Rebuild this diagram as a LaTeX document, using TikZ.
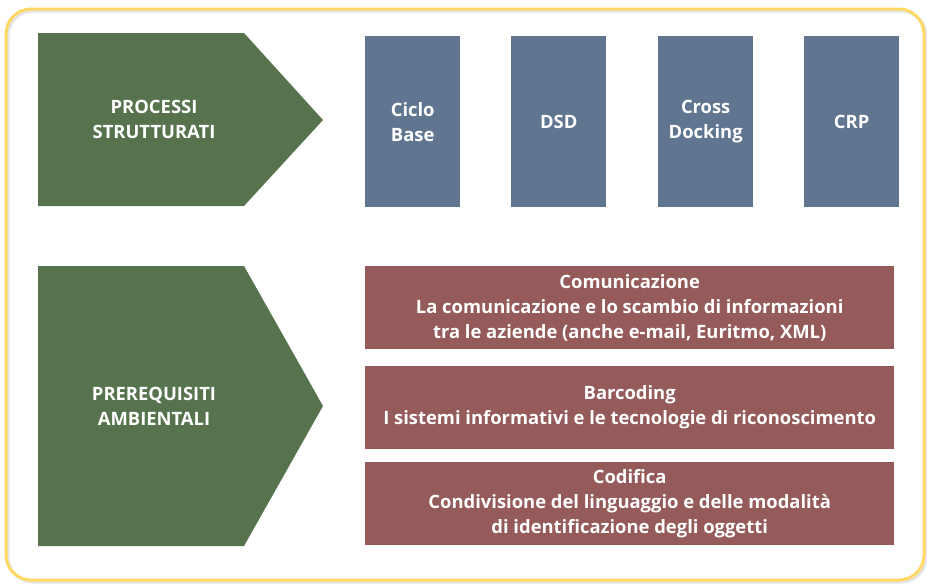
\documentclass[tikz,border=0pt]{standalone}
\usepackage{fontspec}
\setmainfont{Open Sans}
\usetikzlibrary{positioning}

\definecolor{verde}{HTML}{56734E}
\definecolor{blu}{HTML}{5F7590}
\definecolor{rosso}{HTML}{955A5A}
\definecolor{giallo}{HTML}{FFD966}

\tikzset{
  testo/.style={text=white,font=\bfseries\fontsize{18.4}{25}\selectfont,align=center},
  processo/.style={testo,fill=blu,minimum width=95pt,minimum height=171pt,inner sep=0pt,anchor=north west},
  requisito/.style={testo,fill=rosso,minimum width=529pt,minimum height=83pt,inner sep=0pt,anchor=north west},
}

\begin{document}
\begin{tikzpicture}[x=1pt,y=-1pt]
\useasboundingbox (0,0) rectangle (927,584);
% cornice
\draw[gray!20,line width=3pt,rounded corners=25pt] (8,11) rectangle (926,582);
\draw[giallo,line width=3pt,rounded corners=25pt] (6,9) rectangle (924,580);
% frecce verdi
\fill[verde] (38,33) -- (244,33) -- (323,120) -- (244,206) -- (38,206) -- cycle;
\fill[verde] (38,266) -- (244,266) -- (323,406) -- (244,546) -- (38,546) -- cycle;
\node[testo] (strutturati) at (154,119) {PROCESSI\\STRUTTURATI};
\node[testo] (ambientali) at (154,406) {PREREQUISITI\\AMBIENTALI};
% processi
\node[processo] (ciclo) at (365,36) {Ciclo\\Base};
\node[processo] (dsd) at (511,36) {DSD};
\node[processo] (cross) at (658,36) {Cross\\Docking};
\node[processo] (crp) at (804,36) {CRP};
% prerequisiti
\node[requisito] (comunicazione) at (365,266) {Comunicazione\\La comunicazione e lo scambio di informazioni\\tra le aziende (anche e-mail, Euritmo, XML)};
\node[requisito] (barcoding) at (365,366) {Barcoding\\I sistemi informativi e le tecnologie di riconoscimento};
\node[requisito] (codifica) at (365,462) {Codifica\\Condivisione del linguaggio e delle modalità\\di identificazione degli oggetti};
\end{tikzpicture}
\end{document}
